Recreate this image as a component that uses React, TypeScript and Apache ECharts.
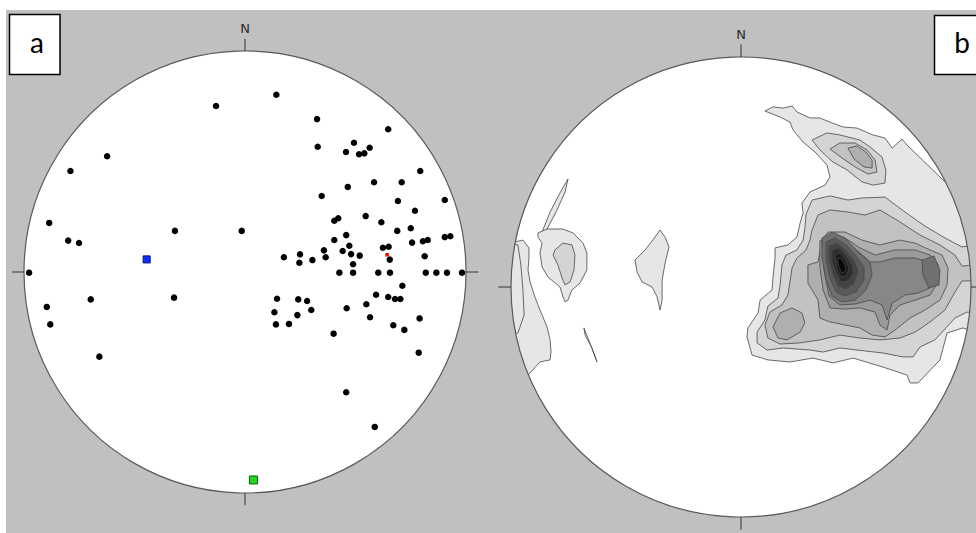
import React, { useEffect, useRef } from "react";
import * as echarts from "echarts";

type Pt = [number, number];

// ---------- panel (a): poles in unit-circle coordinates (x = east, y = north) ----------
const polesA: Pt[] = [
  [-0.131, 0.751], [0.142, 0.802], [0.326, 0.692], [0.648, 0.646], [0.329, 0.567], [0.493, 0.585], [0.457, 0.543], [0.516, 0.533], [0.54, 0.537], [0.564, 0.562],
  [-0.624, 0.524], [-0.79, 0.457], [0.793, 0.457], [0.584, 0.406], [0.709, 0.406], [0.465, 0.385], [0.347, 0.344], [0.692, 0.321], [0.904, 0.326], [0.769, 0.277],
  [-0.886, 0.222], [0.422, 0.243], [0.404, 0.232], [0.546, 0.253], [0.617, 0.225], [0.75, 0.198], [-0.317, 0.186], [-0.015, 0.186], [0.689, 0.186], [-0.8, 0.142],
  [-0.751, 0.131], [0.404, 0.145], [0.458, 0.167], [0.756, 0.133], [0.805, 0.139], [0.827, 0.145], [0.904, 0.158], [0.929, 0.162], [0.472, 0.119], [0.357, 0.098],
  [0.365, 0.067], [0.442, 0.095], [0.48, 0.081], [0.519, 0.074], [0.624, 0.11], [0.65, 0.114], [0.655, 0.056], [0.813, 0.071], [0.176, 0.067], [0.249, 0.08],
  [0.246, 0.042], [0.305, 0.054], [0.489, 0.035], [-0.977, -0.003], [0.427, -0.003], [0.489, -0.003], [0.603, -0.003], [0.656, -0.003], [0.818, -0.003], [0.866, -0.003],
  [0.914, -0.003], [0.982, -0.003], [0.712, -0.062], [-0.698, -0.124], [-0.321, -0.116], [0.145, -0.121], [0.241, -0.124], [0.281, -0.131], [0.593, -0.103], [0.648, -0.113],
  [0.679, -0.122], [0.703, -0.122], [-0.897, -0.158], [-0.881, -0.237], [0.133, -0.182], [0.237, -0.195], [0.3, -0.172], [0.46, -0.164], [0.549, -0.146], [0.566, -0.205],
  [0.79, -0.21], [0.14, -0.237], [0.199, -0.235], [0.671, -0.241], [0.721, -0.262], [0.401, -0.279], [-0.659, -0.383], [0.786, -0.365], [0.458, -0.544], [0.587, -0.701],
];
const meanPoleRed: Pt[] = [[0.643, 0.078]];
const axisBlue: Pt[] = [[-0.445, 0.057]];
const axisGreen: Pt[] = [[0.038, -0.941]];

// ---------- panel (b): density contours (unit-circle coordinates) ----------
const ctrNE1: Pt[] = [
  [0.104, 0.765], [0.139, 0.783], [0.183, 0.778], [0.222, 0.787], [0.243, 0.761], [0.3, 0.735], [0.343, 0.735], [0.396, 0.713], [0.443, 0.696], [0.504, 0.691],
  [0.574, 0.661], [0.626, 0.648], [0.657, 0.604], [0.7, 0.643], [0.722, 0.617], [0.887, 0.457], [0.927, 0.472], [1.024, 0.181], [1.036, -0.091], [1.021, -0.198],
  [0.965, -0.178], [0.896, -0.2], [0.865, -0.317], [0.77, -0.417], [0.735, -0.417], [0.722, -0.383], [0.617, -0.348], [0.487, -0.309], [0.4, -0.33], [0.313, -0.309],
  [0.213, -0.326], [0.117, -0.317], [0.048, -0.296], [0.026, -0.217], [0.03, -0.178], [0.074, -0.113], [0.083, -0.057], [0.135, -0.013], [0.139, 0.043], [0.148, 0.126],
  [0.148, 0.17], [0.204, 0.183], [0.243, 0.217], [0.257, 0.278], [0.27, 0.322], [0.265, 0.365], [0.3, 0.413], [0.365, 0.443], [0.387, 0.478], [0.374, 0.53],
  [0.322, 0.587], [0.27, 0.63], [0.226, 0.683], [0.213, 0.717], [0.17, 0.739],
];
const ctrNorth2: Pt[] = [
  [0.309, 0.639], [0.374, 0.67], [0.43, 0.661], [0.517, 0.639], [0.561, 0.609], [0.613, 0.565], [0.63, 0.509], [0.626, 0.452], [0.574, 0.443], [0.526, 0.457],
  [0.461, 0.509], [0.4, 0.543], [0.343, 0.596],
];
const ctrNorth3: Pt[] = [
  [0.387, 0.6], [0.43, 0.626], [0.496, 0.626], [0.548, 0.596], [0.583, 0.552], [0.591, 0.5], [0.552, 0.491], [0.496, 0.522], [0.439, 0.561],
];
const ctrNorth4: Pt[] = [
  [0.465, 0.604], [0.504, 0.613], [0.543, 0.587], [0.57, 0.552], [0.57, 0.517], [0.535, 0.522], [0.491, 0.557],
];
const ctrMain2: Pt[] = [
  [0.283, 0.317], [0.309, 0.378], [0.387, 0.396], [0.465, 0.378], [0.526, 0.387], [0.626, 0.391], [0.713, 0.326], [0.8, 0.265], [0.887, 0.213], [0.961, 0.174],
  [1.023, 0.186], [1.034, -0.114], [0.983, -0.109], [0.93, -0.135], [0.883, -0.187], [0.843, -0.23], [0.778, -0.261], [0.748, -0.304], [0.704, -0.304], [0.617, -0.287],
  [0.504, -0.274], [0.43, -0.265], [0.357, -0.283], [0.3, -0.274], [0.183, -0.265], [0.113, -0.274], [0.07, -0.243], [0.07, -0.196], [0.104, -0.143], [0.117, -0.083],
  [0.161, -0.048], [0.17, 0.009], [0.178, 0.096], [0.196, 0.139], [0.243, 0.161], [0.27, 0.204], [0.278, 0.257],
];
const ctrMain3: Pt[] = [
  [0.309, 0.248], [0.335, 0.313], [0.387, 0.335], [0.465, 0.326], [0.539, 0.313], [0.604, 0.335], [0.691, 0.283], [0.778, 0.226], [0.865, 0.183], [0.93, 0.139],
  [0.961, 0.091], [1.036, 0.098], [1.04, 0.028], [0.961, 0.026], [0.93, -0.022], [0.887, -0.1], [0.822, -0.152], [0.757, -0.196], [0.691, -0.222], [0.604, -0.23],
  [0.517, -0.222], [0.43, -0.209], [0.343, -0.23], [0.257, -0.243], [0.17, -0.248], [0.117, -0.222], [0.104, -0.165], [0.126, -0.109], [0.178, -0.078], [0.204, -0.035],
  [0.213, 0.022], [0.222, 0.083], [0.243, 0.126], [0.283, 0.161], [0.3, 0.204],
];
const ctrSouthWest4: Pt[] = [
  [0.139, -0.174], [0.17, -0.113], [0.222, -0.091], [0.265, -0.113], [0.278, -0.157], [0.257, -0.196], [0.2, -0.23], [0.161, -0.222],
];
const ctrMain4: Pt[] = [
  [0.291, 0.096], [0.335, 0.109], [0.352, 0.204], [0.378, 0.239], [0.452, 0.239], [0.526, 0.204], [0.604, 0.183], [0.691, 0.204], [0.757, 0.191], [0.822, 0.161],
  [0.874, 0.139], [0.9, 0.083], [0.896, 0.009], [0.865, -0.057], [0.8, -0.1], [0.735, -0.135], [0.67, -0.187], [0.626, -0.217], [0.57, -0.209], [0.517, -0.178],
  [0.452, -0.165], [0.387, -0.152], [0.343, -0.135], [0.335, -0.057], [0.309, -0.013], [0.291, 0.017],
];
const ctrMain5: Pt[] = [
  [0.343, 0.2], [0.396, 0.226], [0.452, 0.213], [0.517, 0.17], [0.583, 0.139], [0.67, 0.161], [0.757, 0.161], [0.822, 0.139], [0.857, 0.096], [0.857, 0.022],
  [0.822, -0.035], [0.757, -0.057], [0.691, -0.078], [0.648, -0.122], [0.635, -0.187], [0.604, -0.165], [0.583, -0.109], [0.517, -0.091], [0.452, -0.096], [0.387, -0.091],
  [0.357, -0.013], [0.343, 0.087],
];
const ctrMain6: Pt[] = [
  [0.352, 0.2], [0.409, 0.222], [0.465, 0.191], [0.517, 0.148], [0.561, 0.109], [0.604, 0.109], [0.67, 0.126], [0.757, 0.126], [0.813, 0.109], [0.835, 0.065],
  [0.822, -0.004], [0.77, -0.026], [0.713, -0.035], [0.657, -0.07], [0.635, -0.143], [0.613, -0.078], [0.561, -0.057], [0.496, -0.074], [0.43, -0.078], [0.383, -0.039],
  [0.361, 0.074],
];
const ctrEastPeak: Pt[] = [[0.787, 0.117], [0.839, 0.135], [0.865, 0.074], [0.861, 0.009], [0.817, -0.004], [0.791, 0.052]];
const ctrCore7: Pt[] = [
  [0.352, 0.213], [0.396, 0.239], [0.452, 0.213], [0.509, 0.152], [0.561, 0.109], [0.57, 0.052], [0.543, -0.013], [0.496, -0.057], [0.439, -0.065], [0.396, -0.039],
  [0.37, 0.03], [0.352, 0.126],
];
const ctrCore8: Pt[] = [
  [0.37, 0.196], [0.409, 0.213], [0.457, 0.183], [0.5, 0.135], [0.535, 0.087], [0.535, 0.03], [0.5, -0.022], [0.452, -0.039], [0.413, -0.022], [0.387, 0.039],
  [0.37, 0.117],
];
const ctrCore9: Pt[] = [
  [0.383, 0.178], [0.417, 0.191], [0.457, 0.157], [0.491, 0.113], [0.509, 0.07], [0.491, 0.017], [0.457, -0.009], [0.422, 0.004], [0.4, 0.057], [0.383, 0.117],
];
const ctrCore10: Pt[] = [
  [0.396, 0.161], [0.426, 0.17], [0.457, 0.135], [0.483, 0.096], [0.487, 0.057], [0.465, 0.026], [0.435, 0.022], [0.413, 0.061], [0.396, 0.109],
];
const ctrCore11: Pt[] = [[0.409, 0.139], [0.43, 0.148], [0.457, 0.113], [0.47, 0.078], [0.457, 0.048], [0.435, 0.043], [0.417, 0.078]];
const ctrCore12: Pt[] = [[0.417, 0.122], [0.435, 0.126], [0.452, 0.096], [0.457, 0.07], [0.439, 0.061], [0.426, 0.087]];
const ctrWestStrip: Pt[] = [
  [-0.983, 0.196], [-0.948, 0.204], [-0.922, 0.17], [-0.922, 0.126], [-0.926, 0.074], [-0.917, 0.022], [-0.896, -0.043], [-0.874, -0.1], [-0.843, -0.174], [-0.83, -0.23],
  [-0.826, -0.283], [-0.83, -0.317], [-0.874, -0.326], [-0.926, -0.383], [-0.961, -0.398], [-1.021, -0.198], [-1.04, 0.0], [-1.02, 0.203],
];
const ctrWestStripInner: Pt[] = [[-0.97, 0.183], [-0.957, 0.096], [-0.948, -0.013], [-0.943, -0.122], [-0.97, -0.2], [-1.02, -0.21], [-1.04, 0.0], [-1.02, 0.19]];
const ctrWestSliverN: Pt[] = [[-0.865, 0.239], [-0.83, 0.326], [-0.787, 0.409], [-0.752, 0.47], [-0.765, 0.413], [-0.804, 0.326], [-0.848, 0.243]];
const ctrBlobB1: Pt[] = [
  [-0.883, 0.235], [-0.843, 0.252], [-0.774, 0.252], [-0.73, 0.235], [-0.687, 0.191], [-0.67, 0.148], [-0.67, 0.074], [-0.7, 0.017], [-0.735, -0.013], [-0.752, -0.057],
  [-0.765, -0.065], [-0.774, -0.043], [-0.787, 0.0], [-0.839, 0.043], [-0.865, 0.087], [-0.874, 0.148], [-0.865, 0.191], [-0.883, 0.217],
];
const ctrBlobB2: Pt[] = [
  [-0.809, 0.161], [-0.774, 0.191], [-0.735, 0.183], [-0.722, 0.139], [-0.726, 0.074], [-0.743, 0.022], [-0.765, 0.009], [-0.778, 0.039], [-0.796, 0.096], [-0.817, 0.139],
];
const ctrBlobC: Pt[] = [
  [-0.461, 0.117], [-0.417, 0.161], [-0.383, 0.204], [-0.352, 0.248], [-0.33, 0.217], [-0.313, 0.174], [-0.33, 0.104], [-0.343, 0.03], [-0.343, -0.057], [-0.352, -0.1],
  [-0.365, -0.043], [-0.387, 0.0], [-0.43, 0.022], [-0.452, 0.065],
];
const ctrSliverS: Pt[] = [[-0.683, -0.178], [-0.657, -0.243], [-0.626, -0.326], [-0.648, -0.265], [-0.678, -0.209]];

const contourShapes: Pt[][] = [
  ctrNE1, ctrNorth2, ctrNorth3, ctrNorth4, ctrMain2, ctrMain3, ctrSouthWest4, ctrMain4, ctrMain5, ctrMain6, ctrEastPeak,
  ctrCore7, ctrCore8, ctrCore9, ctrCore10, ctrCore11, ctrCore12,
  ctrWestStrip, ctrWestStripInner, ctrWestSliverN, ctrBlobB1, ctrBlobB2, ctrBlobC, ctrSliverS,
];
const contourLevels: number[] = [1, 2, 3, 4, 2, 3, 4, 4, 5, 6, 7, 7, 8, 9, 10, 11, 12, 1, 1, 1, 1, 2, 1, 1];
const levelFills: string[] = [
  "#e6e6e6", "#d4d4d4", "#c2c2c2", "#afafaf", "#9b9b9b", "#878787", "#707070", "#595959", "#434343", "#2e2e2e", "#1a1a1a", "#060606",
];

const compassDirs: Pt[] = [[0, 1], [1, 0], [0, -1], [-1, 0]];
const TICK = 0.055;
const NORTH_LABEL_AT = 1.1;
const panelLetters = ["a", "b"];

function diskRenderer(params: any, api: any) {
  const c = api.coord([0, 0]);
  const r = api.size([1, 1])[0];
  return { type: "circle", shape: { cx: c[0], cy: c[1], r }, style: { fill: "#ffffff" } };
}

function frameRenderer(mask: boolean) {
  return (params: any, api: any) => {
    const c = api.coord([0, 0]);
    const r = api.size([1, 1])[0];
    const kids: any[] = [];
    if (mask) {
      kids.push({ type: "ring", shape: { cx: c[0], cy: c[1], r: r * 1.08, r0: r }, style: { fill: "#c0c0c0" } });
    }
    kids.push({ type: "circle", shape: { cx: c[0], cy: c[1], r }, style: { fill: "none", stroke: "#5a5a5a", lineWidth: 1.2 } });
    compassDirs.forEach(([dx, dy]) => {
      const a = api.coord([dx, dy]);
      const b = api.coord([dx * (1 + TICK), dy * (1 + TICK)]);
      kids.push({ type: "line", shape: { x1: a[0], y1: a[1], x2: b[0], y2: b[1] }, style: { stroke: "#333333", lineWidth: 1 } });
    });
    const n = api.coord([0, NORTH_LABEL_AT]);
    kids.push({
      type: "text",
      x: n[0],
      y: n[1],
      style: { text: "N", fill: "#2a2a2a", fontSize: 13, fontFamily: "DejaVu Sans", align: "center", verticalAlign: "middle" },
    });
    return { type: "group", children: kids };
  };
}

function contourRenderer(params: any, api: any) {
  const pts = contourShapes[params.dataIndex].map((p) => api.coord(p));
  const lv = contourLevels[params.dataIndex];
  return {
    type: "polygon",
    shape: { points: pts },
    style: { fill: levelFills[lv - 1], stroke: "#464646", lineWidth: 0.8 },
  };
}

export default function App() {
  const ref = useRef<HTMLDivElement>(null);
  useEffect(() => {
    if (!ref.current) return;
    const chart = echarts.init(ref.current, undefined, { renderer: "svg" });
    const axisBase = { type: "value", min: -1, max: 1, show: false };
    chart.setOption({
      animation: false,
      backgroundColor: "#ffffff",
      grid: [
        { left: 24, top: 51, width: 442, height: 442 },
        { left: 511, top: 57, width: 460, height: 460 },
      ],
      xAxis: [
        { ...axisBase, gridIndex: 0 },
        { ...axisBase, gridIndex: 1 },
      ],
      yAxis: [
        { ...axisBase, gridIndex: 0 },
        { ...axisBase, gridIndex: 1 },
      ],
      graphic: [
        { type: "rect", z: -10, silent: true, shape: { x: 6, y: 10, width: 970, height: 523 }, style: { fill: "#c0c0c0" } },
        { type: "rect", z: 100, shape: { x: 9.5, y: 14.5, width: 50.5, height: 60 }, style: { fill: "#ffffff", stroke: "#000000", lineWidth: 1.5 } },
        { type: "text", z: 101, x: 37, y: 42, style: { text: panelLetters[0], fill: "#000000", fontSize: 28, fontFamily: "Lato", align: "center", verticalAlign: "middle" } },
        { type: "rect", z: 100, shape: { x: 934.5, y: 15.5, width: 50, height: 59 }, style: { fill: "#ffffff", stroke: "#000000", lineWidth: 1.5 } },
        { type: "text", z: 101, x: 962, y: 42, style: { text: panelLetters[1], fill: "#000000", fontSize: 28, fontFamily: "Lato", align: "center", verticalAlign: "middle" } },
      ],
      series: [
        { type: "custom", xAxisIndex: 0, yAxisIndex: 0, z: 1, silent: true, data: [[0, 0]], renderItem: diskRenderer },
        { type: "custom", xAxisIndex: 1, yAxisIndex: 1, z: 1, silent: true, data: [[0, 0]], renderItem: diskRenderer },
        {
          type: "custom", xAxisIndex: 1, yAxisIndex: 1, z: 2, silent: true, clip: false,
          data: contourShapes.map((_, i) => [0, 0, i]),
          renderItem: contourRenderer,
        },
        { type: "custom", xAxisIndex: 0, yAxisIndex: 0, z: 3, silent: true, data: [[0, 0]], renderItem: frameRenderer(false) },
        { type: "custom", xAxisIndex: 1, yAxisIndex: 1, z: 3, silent: true, data: [[0, 0]], renderItem: frameRenderer(true) },
        {
          type: "scatter", xAxisIndex: 0, yAxisIndex: 0, z: 4, symbol: "circle", symbolSize: 6.5,
          itemStyle: { color: "#000000", opacity: 1 }, data: polesA,
        },
        {
          type: "scatter", xAxisIndex: 0, yAxisIndex: 0, z: 5, symbol: "rect", symbolSize: 3.5,
          itemStyle: { color: "#ff0000", opacity: 1 }, data: meanPoleRed,
        },
        {
          type: "scatter", xAxisIndex: 0, yAxisIndex: 0, z: 5, symbol: "rect", symbolSize: 7,
          itemStyle: { color: "#1030ff", borderColor: "#000a70", borderWidth: 1, opacity: 1 }, data: axisBlue,
        },
        {
          type: "scatter", xAxisIndex: 0, yAxisIndex: 0, z: 5, symbol: "rect", symbolSize: 8,
          itemStyle: { color: "#1fd81f", borderColor: "#0a600a", borderWidth: 1, opacity: 1 }, data: axisGreen,
        },
      ],
    });
    return () => chart.dispose();
  }, []);
  return <div ref={ref} style={{ position: "absolute", left: 0, top: 0, width: 976, height: 533 }} />;
}
